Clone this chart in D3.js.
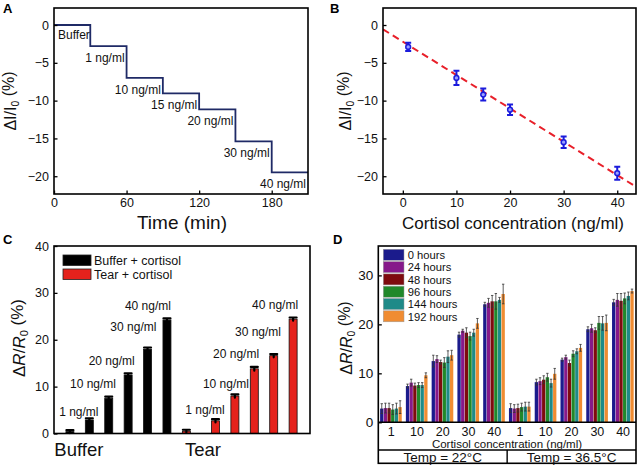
<!DOCTYPE html>
<html>
<head>
<meta charset="utf-8">
<script src="https://cdn.jsdelivr.net/npm/d3@7"></script>
<style>
body { margin: 0; background: #fff; }
svg { font-family: Arial, "Liberation Sans", sans-serif; font-weight: 400; }
</style>
</head>
<body>
<div id="chart"></div>
<script>
// ---- A: current trace
var stepTimes = [0, 30, 60, 90, 120, 150, 180, 210];
var stepLevels = [0, -2.8, -7.0, -9.05, -11.15, -15.4, -19.5];
var stepLabels = ["Buffer", "1 ng/ml", "10 ng/ml", "15 ng/ml", "20 ng/ml", "30 ng/ml", "40 ng/ml"];
var ticksA = [0, 60, 120, 180];

// ---- B: calibration
var concB = [1, 10, 15, 20, 30, 40];
var meanB = [-2.9, -7.0, -9.2, -11.2, -15.5, -19.6];
var errB = [0.55, 0.95, 0.8, 0.7, 0.75, 0.85];
var fitX = [-3.7, 43.5];
var fitY = [-0.57, -21.4];

// ---- C: buffer vs tear
var catC = ["Buffer", "Tear"];
var catPosC = [0.46, 6.86];
var posBuffer = [0, 1, 2, 3, 4, 5];
var valBuffer = [0.4, 2.9, 7.5, 12.5, 18.0, 24.2];
var errBuffer = [0.3, 0.35, 0.35, 0.35, 0.35, 0.35];
var posTear = [6, 7.5, 8.5, 9.5, 10.5, 11.5];
var valTear = [0.5, 2.7, 8.0, 13.8, 16.6, 24.4];
var errTear = [0.3, 0.35, 0.35, 0.4, 0.35, 0.35];
var notesC = ["1 ng/ml", "10 ng/ml", "20 ng/ml", "30 ng/ml", "40 ng/ml"];
var notePosBuffer = [0.46, 1.19, 2.15, 3.27, 4.02];
var noteValBuffer = [4.6, 10.5, 15.5, 22.8, 27.2];
var notePosTear = [6.96, 8.04, 8.56, 9.69, 10.57];
var noteValTear = [5.0, 10.5, 16.9, 21.7, 27.4];

// ---- D: stability
var groupsD = ["1", "10", "20", "30", "40", "1", "10", "20", "30", "40"];
var tempsD = ["Temp = 22°C", "Temp = 36.5°C"];
var seriesD = ["0 hours", "24 hours", "48 hours", "96 hours", "144 hours", "192 hours"];
var colorsD = ["#1b1b8c", "#86198a", "#7e0b0e", "#21882a", "#1f8a88", "#f08c32"];
var d0h = [2.8, 7.4, 12.5, 17.9, 24.1, 2.9, 8.2, 12.8, 19.0, 24.5];
var d24h = [2.9, 8.1, 12.9, 18.7, 24.4, 2.8, 8.4, 13.3, 19.2, 25.0];
var d48h = [2.9, 7.5, 12.3, 18.3, 24.7, 2.9, 8.7, 12.1, 18.8, 24.8];
var d96h = [2.6, 7.6, 12.2, 17.6, 24.7, 3.1, 9.2, 14.0, 20.3, 25.3];
var d144h = [2.8, 7.6, 13.4, 18.3, 25.0, 3.2, 8.0, 14.5, 20.2, 25.8];
var d192h = [3.1, 9.6, 13.7, 20.2, 26.2, 3.2, 9.9, 15.2, 20.3, 26.8];
var e0h = [1.0, 0.4, 1.2, 0.5, 0.4, 0.9, 0.6, 0.3, 0.5, 0.6];
var e24h = [1.0, 0.7, 0.7, 0.3, 0.9, 0.8, 0.7, 0.4, 0.8, 1.3];
var e48h = [1.0, 0.5, 0.4, 1.0, 1.2, 0.8, 0.8, 0.6, 0.5, 1.5];
var e96h = [1.0, 0.5, 1.0, 0.8, 1.6, 0.8, 0.8, 0.6, 1.3, 1.1];
var e144h = [1.1, 0.5, 1.2, 0.7, 0.5, 0.9, 0.8, 0.5, 1.4, 0.8];
var e192h = [1.3, 0.5, 1.0, 1.0, 2.0, 0.9, 1.1, 0.7, 1.6, 0.4];
var valsD = [d0h, d24h, d48h, d96h, d144h, d192h];
var errsD = [e0h, e24h, e48h, e96h, e144h, e192h];

var svg = d3.select("#chart").append("svg")
    .attr("width", 640)
    .attr("height", 471);

svg.append("rect").attr("width", 640).attr("height", 471).attr("fill", "#fff");

function frame(x0, y0, x1, y1) {
    svg.append("rect")
        .attr("x", x0).attr("y", y0)
        .attr("width", x1 - x0).attr("height", y1 - y0)
        .attr("fill", "none")
        .attr("stroke", "#000")
        .attr("stroke-width", 1.6);
}

// inward ticks, origin style
function leftAxis(scale, x, major, minor) {
    var g = svg.append("g").attr("transform", "translate(" + x + ",0)");
    g.call(d3.axisLeft(scale).tickValues(minor).tickSize(-2).tickFormat(""));
    g.call(d3.axisLeft(scale).tickValues(major).tickSize(-3.5).tickPadding(5)
        .tickFormat(function(d){ return d < 0 ? "\u2212" + Math.abs(d) : d; }));
    g.selectAll(".domain").remove();
    g.attr("font-family", null);
    g.selectAll("text").attr("font-size", 12.5).attr("fill", "#111");
    g.selectAll("line").attr("stroke-width", 1.3);
    return g;
}

function bottomAxis(scale, y, major, minor) {
    var g = svg.append("g").attr("transform", "translate(0," + y + ")");
    g.call(d3.axisBottom(scale).tickValues(minor).tickSize(-2).tickFormat(""));
    g.call(d3.axisBottom(scale).tickValues(major).tickSize(-3.5).tickPadding(4));
    g.selectAll(".domain").remove();
    g.attr("font-family", null);
    g.selectAll("text").attr("font-size", 12.5).attr("fill", "#111");
    g.selectAll("line").attr("stroke-width", 1.3);
    return g;
}

function yTitle(x, y, parts, size) {
    var t = svg.append("text")
        .attr("transform", "translate(" + x + "," + y + ") rotate(-90)")
        .attr("text-anchor", "middle")
        .attr("fill", "#111")
        .attr("font-size", size);
    parts.forEach(function(p){
        var s = t.append("tspan").text(p.t);
        if (p.i) s.attr("font-style", "italic");
        if (p.sub) s.attr("dy", "0.3em").attr("font-size", size * 0.65);
        if (p.after) s.attr("dy", "-0.3em");
    });
}

function letter(x, y, s) {
    svg.append("text").attr("x", x).attr("y", y).text(s)
        .attr("font-weight", "bold").attr("font-size", 13);
}

var ylabI = [{t: "\u0394I/I"}, {t: "0", sub: true}, {t: " (%)", after: true}];
var ylabR = [{t: "\u0394"}, {t: "R", i: true}, {t: "/"}, {t: "R", i: true}, {t: "0", sub: true}, {t: " (%)", after: true}];

// ================= A
var xA = d3.scaleLinear().domain([0, 210]).range([54, 308]);
var yA = d3.scaleLinear().domain([-22.35, 2.25]).range([194, 8]);

var stepPts = stepTimes.map(function(t, i){
    return [t, stepLevels[Math.min(i, stepLevels.length - 1)]];
});
svg.append("path")
    .datum(stepPts)
    .attr("fill", "none")
    .attr("stroke", "#1f2a66")
    .attr("stroke-width", 1.8)
    .attr("d", d3.line().curve(d3.curveStepAfter)
        .x(function(d){ return xA(d[0]); })
        .y(function(d){ return yA(d[1]); }));

svg.selectAll(".stepLabel")
    .data(stepLabels)
    .enter()
    .append("text")
    .attr("class", "stepLabel")
    .attr("font-size", 12)
    .attr("fill", "#111")
    .attr("text-anchor", function(d, i){ return i == 0 ? "start" : "end"; })
    .attr("x", function(d, i){ return i == 0 ? xA(stepTimes[0]) + 4 : xA(stepTimes[i + 1]) - 2; })
    .attr("y", function(d, i){ return yA(stepLevels[i]) + (i == 0 ? 14 : 16); })
    .text(function(d){ return d; });

frame(54, 8, 308, 194);
leftAxis(yA, 54, [0, -5, -10, -15, -20], [-2.5, -7.5, -12.5, -17.5]);
bottomAxis(xA, 194, ticksA, [30, 90, 150]);
yTitle(16, 101, ylabI, 16);
svg.append("text").attr("x", 182).attr("y", 229).attr("text-anchor", "middle")
    .attr("fill", "#111").attr("font-size", 19).text("Time (min)");
letter(3, 13, "A");

// ================= B
var xB = d3.scaleLinear().domain([-3.7, 43.5]).range([383, 636]);
var yB = d3.scaleLinear().domain([-22.35, 2.25]).range([194, 8]);

var clipB = svg.append("clipPath").attr("id", "clipB");
clipB.append("rect").attr("x", 383).attr("y", 8).attr("width", 253).attr("height", 186);

svg.append("line")
    .attr("clip-path", "url(#clipB)")
    .attr("x1", xB(fitX[0])).attr("y1", yB(fitY[0]))
    .attr("x2", xB(fitX[1])).attr("y2", yB(fitY[1]))
    .attr("stroke", "#e8202a")
    .attr("stroke-width", 2)
    .attr("stroke-dasharray", "7,4.5");

var ptsB = concB.map(function(c, i){ return {x: c, y: meanB[i], e: errB[i]}; });
var gB = svg.append("g");
gB.selectAll(".ebar").data(ptsB).enter().append("path")
    .attr("class", "ebar")
    .attr("fill", "none")
    .attr("stroke", "#1b1bdc")
    .attr("stroke-width", 2)
    .attr("d", function(d){
        var x = xB(d.x), y1 = yB(d.y + d.e), y2 = yB(d.y - d.e);
        return "M" + (x - 3) + "," + y1 + "H" + (x + 3) + "M" + x + "," + y1 + "V" + y2 +
            "M" + (x - 3) + "," + y2 + "H" + (x + 3);
    });
gB.selectAll(".dot").data(ptsB).enter().append("circle")
    .attr("class", "dot")
    .attr("cx", function(d){ return xB(d.x); })
    .attr("cy", function(d){ return yB(d.y); })
    .attr("r", 2.4)
    .attr("fill", "#9aa0ff")
    .attr("stroke", "#1b1bdc")
    .attr("stroke-width", 1.5);

frame(383, 8, 636, 194);
leftAxis(yB, 383, [0, -5, -10, -15, -20], [-2.5, -7.5, -12.5, -17.5]);
bottomAxis(xB, 194, [0, 10, 20, 30, 40], [5, 15, 25, 35]);
yTitle(351, 101, ylabI, 16);
svg.append("text").attr("x", 513).attr("y", 229).attr("text-anchor", "middle")
    .attr("fill", "#111").attr("font-size", 17).text("Cortisol concentration (ng/ml)");
letter(330, 13, "B");

// ================= C
var xC = d3.scaleLinear().domain([-0.82, 12.37]).range([54, 310]);
var yC = d3.scaleLinear().domain([0, 40]).range([433.5, 246]);
var bwC = 8;

function barsC(pos, vals, errs, fill) {
    var data = pos.map(function(p, i){ return {p: p, v: vals[i], e: errs[i]}; });
    var g = svg.append("g");
    g.selectAll("rect").data(data).enter().append("rect")
        .attr("x", function(d){ return xC(d.p) - bwC / 2; })
        .attr("width", bwC)
        .attr("y", function(d){ return yC(d.v); })
        .attr("height", function(d){ return yC(0) - yC(d.v); })
        .attr("fill", fill)
        .attr("stroke", "#111")
        .attr("stroke-width", 0.8);
    g.selectAll("path").data(data).enter().append("path")
        .attr("fill", "none")
        .attr("stroke", "#000")
        .attr("stroke-width", 2.2)
        .attr("stroke-linecap", "round")
        .attr("d", function(d){
            var x = xC(d.p), y1 = yC(d.v + d.e), y2 = yC(d.v - d.e);
            return "M" + (x - 3.5) + "," + y1 + "H" + (x + 3.5) + "M" + x + "," + y1 + "V" + y2;
        });
}
barsC(posBuffer, valBuffer, errBuffer, "#000");
barsC(posTear, valTear, errTear, "#e5221c");

function notes(pos, vals) {
    svg.append("g").selectAll("text").data(notesC).enter().append("text")
        .attr("font-size", 12)
        .attr("fill", "#111")
        .attr("text-anchor", "middle")
        .attr("x", function(d, i){ return xC(pos[i]); })
        .attr("y", function(d, i){ return yC(vals[i]) + 4; })
        .text(function(d){ return d; });
}
notes(notePosBuffer, noteValBuffer);
notes(notePosTear, noteValTear);

svg.append("g").selectAll("text").data(catC).enter().append("text")
    .attr("font-size", 18.5)
    .attr("fill", "#111")
    .attr("text-anchor", "middle")
    .attr("x", function(d, i){ return xC(catPosC[i]); })
    .attr("y", 456)
    .text(function(d){ return d; });

var legC = [["Buffer + cortisol", "#000"], ["Tear + cortisol", "#e5221c"]];
var gLC = svg.append("g").selectAll("g").data(legC).enter().append("g")
    .attr("transform", function(d, i){ return "translate(63," + (255 + i * 14) + ")"; });
gLC.append("rect").attr("width", 28).attr("height", 10.5)
    .attr("fill", function(d){ return d[1]; })
    .attr("stroke", "#222").attr("stroke-width", 0.8);
gLC.append("text").attr("x", 31).attr("y", 9.5).attr("font-size", 12.5).attr("fill", "#111")
    .text(function(d){ return d[0]; });

frame(54, 246, 310, 433.5);
leftAxis(yC, 54, [0, 10, 20, 30, 40], [5, 15, 25, 35]);
yTitle(25, 338, ylabR, 17);
letter(3, 244, "C");

// ================= D
var xD = d3.scaleBand().domain(d3.range(groupsD.length)).range([378.3, 636]);
var bw = xD.bandwidth();
var xDi = d3.scaleBand().domain(seriesD).range([0.07 * bw, 0.91 * bw]).paddingInner(0.1);
var yD = d3.scaleLinear().domain([0, 36]).range([422.3, 246]);

var gD = svg.append("g");
seriesD.forEach(function(s, si){
    var data = valsD[si].map(function(v, gi){ return {g: gi, v: v, e: errsD[si][gi]}; });
    var gs = gD.append("g");
    gs.selectAll("rect").data(data).enter().append("rect")
        .attr("x", function(d){ return xD(d.g) + xDi(s); })
        .attr("width", xDi.bandwidth())
        .attr("y", function(d){ return yD(d.v); })
        .attr("height", function(d){ return yD(0) - yD(d.v); })
        .attr("fill", colorsD[si]);
    gs.selectAll("path").data(data).enter().append("path")
        .attr("fill", "none")
        .attr("stroke", "#333")
        .attr("stroke-width", 0.8)
        .attr("d", function(d){
            var x = xD(d.g) + xDi(s) + xDi.bandwidth() / 2;
            var y1 = yD(d.v + d.e), y2 = yD(d.v - d.e);
            return "M" + (x - 1.2) + "," + y1 + "H" + (x + 1.2) + "M" + x + "," + y1 + "V" + y2 +
                "M" + (x - 1.2) + "," + y2 + "H" + (x + 1.2);
        });
});

var gLD = svg.append("g").selectAll("g").data(seriesD).enter().append("g")
    .attr("transform", function(d, i){ return "translate(383.3," + (249.3 + i * 12.3) + ")"; });
gLD.append("rect").attr("width", 20.7).attr("height", 11)
    .attr("fill", function(d, i){ return colorsD[i]; })
    .attr("stroke", "#999").attr("stroke-width", 0.5);
gLD.append("text").attr("x", 24.4).attr("y", 9.8).attr("font-size", 11.2).attr("fill", "#111")
    .text(function(d){ return d; });

// bottom boxes
frame(378.3, 246, 636, 463.3);
svg.append("line").attr("x1", 378.3).attr("x2", 636).attr("y1", 422.3).attr("y2", 422.3)
    .attr("stroke", "#000").attr("stroke-width", 1.6);
svg.append("line").attr("x1", 378.3).attr("x2", 636).attr("y1", 450).attr("y2", 450)
    .attr("stroke", "#000").attr("stroke-width", 1.4);
svg.append("line").attr("x1", xD(5)).attr("x2", xD(5)).attr("y1", 450).attr("y2", 463.3)
    .attr("stroke", "#000").attr("stroke-width", 1.4);

svg.append("g").selectAll("text").data(groupsD).enter().append("text")
    .attr("font-size", 12.5)
    .attr("fill", "#111")
    .attr("text-anchor", "middle")
    .attr("x", function(d, i){ return xD(i) + bw / 2; })
    .attr("y", 435.5)
    .text(function(d){ return d; });
svg.append("text").attr("x", 507).attr("y", 447.5).attr("text-anchor", "middle")
    .attr("fill", "#111").attr("font-size", 11.5).text("Cortisol concentration (ng/ml)");
svg.append("g").selectAll("text").data(tempsD).enter().append("text")
    .attr("font-size", 13.5)
    .attr("fill", "#111")
    .attr("text-anchor", "middle")
    .attr("x", function(d, i){ return xD(i * 5) + bw * 2.5; })
    .attr("y", 461.5)
    .text(function(d){ return d; });

var axD = leftAxis(yD, 378.3, [0, 10, 20, 30], [5, 15, 25, 35]);
axD.selectAll("text").attr("font-size", 13.5);
yTitle(352, 338, ylabR, 16);
letter(333, 244, "D");
</script>
</body>
</html>
